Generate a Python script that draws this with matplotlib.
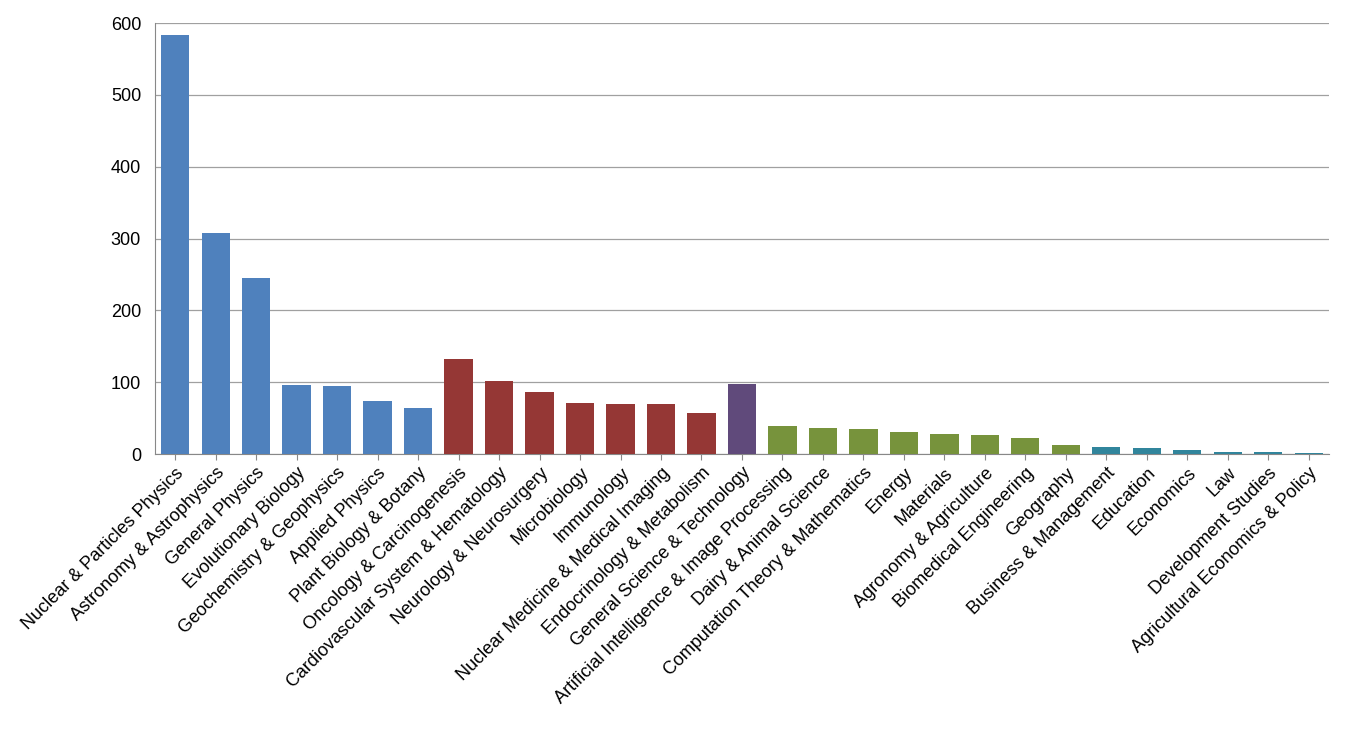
import matplotlib
matplotlib.use("Agg")
import matplotlib.pyplot as plt

categories = ["Nuclear & Particles Physics","Astronomy & Astrophysics","General Physics","Evolutionary Biology",
"Geochemistry & Geophysics","Applied Physics","Plant Biology & Botany","Oncology & Carcinogenesis",
"Cardiovascular System & Hematology","Neurology & Neurosurgery","Microbiology","Immunology",
"Nuclear Medicine & Medical Imaging","Endocrinology & Metabolism","General Science & Technology",
"Artificial Intelligence & Image Processing","Dairy & Animal Science","Computation Theory & Mathematics",
"Energy","Materials","Agronomy & Agriculture","Biomedical Engineering","Geography",
"Business & Management","Education","Economics","Law","Development Studies","Agricultural Economics & Policy"]
values = [583,308,245,96,95,74,64,132,102,86,71,70,70,57,97,39,36,35,31,28,26,22,13,10,8,6,3,3,1]
groups = ["b"]*7 + ["r"]*7 + ["p"] + ["g"]*8 + ["t"]*6
palette = {"b":"#4F81BD","r":"#953735","p":"#604A7B","g":"#77933C","t":"#31859C"}

plt.rcParams['font.family'] = ['Liberation Sans', 'DejaVu Sans']
fig = plt.figure(figsize=(13.5, 7.42), dpi=100)
ax = fig.add_axes([0.1148, 0.388, 0.8696, 0.581])
x = list(range(len(categories)))
ax.bar(x, values, width=0.7, color=[palette[g] for g in groups], zorder=3)
ax.set_xlim(-0.5, len(categories)-0.5)
ax.set_ylim(0, 600)
ax.set_yticks(range(0, 601, 100))
ax.yaxis.grid(True, color="#A0A0A0", linewidth=0.9, zorder=0)
ax.set_xticks(x)
ax.set_xticklabels(categories, rotation=45, ha="right", rotation_mode="anchor", fontsize=13)
ax.tick_params(axis="y", labelsize=13, length=0, pad=10)
ax.tick_params(axis="x", length=4, color="#888888")
for s in ["top", "right"]:
    ax.spines[s].set_visible(False)
ax.spines["left"].set_color("#888888")
ax.spines["bottom"].set_color("#888888")
fig.savefig("out.png", dpi=100)
